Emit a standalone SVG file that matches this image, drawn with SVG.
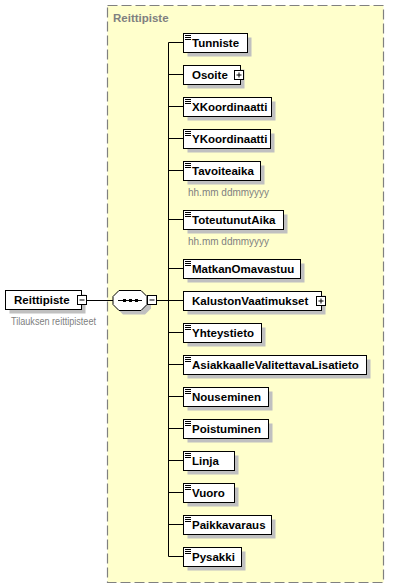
<svg xmlns="http://www.w3.org/2000/svg" width="401" height="588" viewBox="0 0 401 588">
<style>
.box{fill:#fff;stroke:#000;stroke-width:1}
.sh{fill:#c0c0c0}
.lbl{font-family:"Liberation Sans",Arial,sans-serif;font-weight:bold;font-size:11.5px;fill:#000}
.ann{font-family:"Liberation Sans",Arial,sans-serif;font-size:10px;fill:#808080}
.ttl{font-family:"Liberation Sans",Arial,sans-serif;font-weight:bold;font-size:11.5px;fill:#808080}
.ln{stroke:#000;stroke-width:1;fill:none}
.ic{stroke:#000;stroke-width:1}
.pm{fill:#fff;stroke:#000;stroke-width:1}
</style>
<defs>
<g id="icon"><path class="ic" d="M2,2.5h6M2,4.5h6M2,6.5h6"/></g>
<g id="plus"><rect class="pm" x="0.5" y="0.5" width="9" height="9"/><path class="ic" d="M2.5,5h5M5,2.5v5"/></g>
<g id="minus"><rect class="pm" x="0.5" y="0.5" width="9" height="9"/><path class="ic" d="M2.5,5h5"/></g>
</defs>
<rect x="107.5" y="5.5" width="276" height="577" fill="#ffffcc" stroke="#808080" stroke-width="1.2" stroke-dasharray="10,4"/>
<text class="ttl" x="113" y="22">Reittipiste</text>
<g id="connectors">
<path class="ln" d="M86.5,300.5H113M157,300.5H168.5M168.5,42.5V556.5"/>
<path class="ln" d="M168.5,42.5H183M168.5,74.5H183M168.5,106.5H183M168.5,138.5H183M168.5,170.5H183M168.5,219.5H183M168.5,268.5H183M168.5,300.5H183M168.5,332.5H183M168.5,364.5H183M168.5,396.5H183M168.5,428.5H183M168.5,460.5H183M168.5,492.5H183M168.5,524.5H183M168.5,556.5H183"/>
</g>
<g id="n-Reittipiste">
<rect class="sh" x="9.5" y="294.5" width="76" height="19"/>
<rect class="box" x="5.5" y="290.5" width="76" height="19"/>
<text class="lbl" x="14" y="304">Reittipiste</text>
<use href="#minus" x="77" y="295"/>
<text class="ann" x="11" y="325" textLength="85" lengthAdjust="spacingAndGlyphs">Tilauksen reittipisteet</text>
</g>
<g id="n-sequence">
<path class="sh" d="M123,294.5H145L151,300.5V308.5L145,314.5H123L117,308.5V300.5Z"/>
<path class="box" d="M119,290.5H141L147,296.5V304.5L141,310.5H119L113,304.5V296.5Z"/>
<path class="ln" d="M118,300.5H142"/>
<rect x="123" y="299" width="3" height="3"/>
<rect x="129" y="299" width="3" height="3"/>
<rect x="135" y="299" width="3" height="3"/>
<use href="#minus" x="147" y="295"/>
</g>
<g id="n-Tunniste"><rect class="sh" x="187.5" y="37.5" width="64" height="19"/><rect class="box" x="183.5" y="33.5" width="64" height="19"/><use href="#icon" x="183" y="33"/><text class="lbl" x="192" y="47">Tunniste</text></g>
<g id="n-Osoite"><rect class="sh" x="187.5" y="69.5" width="57" height="19"/><rect class="box" x="183.5" y="65.5" width="57" height="19"/><text class="lbl" x="192" y="79">Osoite</text><use href="#plus" x="234" y="70"/></g>
<g id="n-XKoordinaatti"><rect class="sh" x="187.5" y="101.5" width="88" height="19"/><rect class="box" x="183.5" y="97.5" width="88" height="19"/><use href="#icon" x="183" y="97"/><text class="lbl" x="192" y="111">XKoordinaatti</text></g>
<g id="n-YKoordinaatti"><rect class="sh" x="187.5" y="133.5" width="87" height="19"/><rect class="box" x="183.5" y="129.5" width="87" height="19"/><use href="#icon" x="183" y="129"/><text class="lbl" x="192" y="143">YKoordinaatti</text></g>
<g id="n-Tavoiteaika"><rect class="sh" x="187.5" y="165.5" width="77" height="19"/><rect class="box" x="183.5" y="161.5" width="77" height="19"/><use href="#icon" x="183" y="161"/><text class="lbl" x="192" y="175">Tavoiteaika</text><text class="ann" x="188" y="196">hh.mm ddmmyyyy</text></g>
<g id="n-ToteutunutAika"><rect class="sh" x="187.5" y="214.5" width="100" height="19"/><rect class="box" x="183.5" y="210.5" width="100" height="19"/><use href="#icon" x="183" y="210"/><text class="lbl" x="192" y="224">ToteutunutAika</text><text class="ann" x="188" y="245">hh.mm ddmmyyyy</text></g>
<g id="n-MatkanOmavastuu"><rect class="sh" x="187.5" y="263.5" width="117" height="19"/><rect class="box" x="183.5" y="259.5" width="117" height="19"/><use href="#icon" x="183" y="259"/><text class="lbl" x="192" y="273">MatkanOmavastuu</text></g>
<g id="n-KalustonVaatimukset"><rect class="sh" x="187.5" y="295.5" width="138" height="19"/><rect class="box" x="183.5" y="291.5" width="138" height="19"/><text class="lbl" x="192" y="305">KalustonVaatimukset</text><use href="#plus" x="316" y="296"/></g>
<g id="n-Yhteystieto"><rect class="sh" x="187.5" y="327.5" width="78" height="19"/><rect class="box" x="183.5" y="323.5" width="78" height="19"/><use href="#icon" x="183" y="323"/><text class="lbl" x="192" y="337">Yhteystieto</text></g>
<g id="n-AsiakkaalleValitettavaLisatieto"><rect class="sh" x="187.5" y="359.5" width="183" height="19"/><rect class="box" x="183.5" y="355.5" width="183" height="19"/><use href="#icon" x="183" y="355"/><text class="lbl" x="192" y="369">AsiakkaalleValitettavaLisatieto</text></g>
<g id="n-Nouseminen"><rect class="sh" x="187.5" y="391.5" width="85" height="19"/><rect class="box" x="183.5" y="387.5" width="85" height="19"/><use href="#icon" x="183" y="387"/><text class="lbl" x="192" y="401">Nouseminen</text></g>
<g id="n-Poistuminen"><rect class="sh" x="187.5" y="423.5" width="85" height="19"/><rect class="box" x="183.5" y="419.5" width="85" height="19"/><use href="#icon" x="183" y="419"/><text class="lbl" x="192" y="433">Poistuminen</text></g>
<g id="n-Linja"><rect class="sh" x="187.5" y="455.5" width="51" height="19"/><rect class="box" x="183.5" y="451.5" width="51" height="19"/><use href="#icon" x="183" y="451"/><text class="lbl" x="192" y="465">Linja</text></g>
<g id="n-Vuoro"><rect class="sh" x="187.5" y="487.5" width="51" height="19"/><rect class="box" x="183.5" y="483.5" width="51" height="19"/><use href="#icon" x="183" y="483"/><text class="lbl" x="192" y="497">Vuoro</text></g>
<g id="n-Paikkavaraus"><rect class="sh" x="187.5" y="519.5" width="88" height="19"/><rect class="box" x="183.5" y="515.5" width="88" height="19"/><use href="#icon" x="183" y="515"/><text class="lbl" x="192" y="529">Paikkavaraus</text></g>
<g id="n-Pysakki"><rect class="sh" x="187.5" y="551.5" width="58" height="19"/><rect class="box" x="183.5" y="547.5" width="58" height="19"/><use href="#icon" x="183" y="547"/><text class="lbl" x="192" y="561">Pysakki</text></g>
</svg>
